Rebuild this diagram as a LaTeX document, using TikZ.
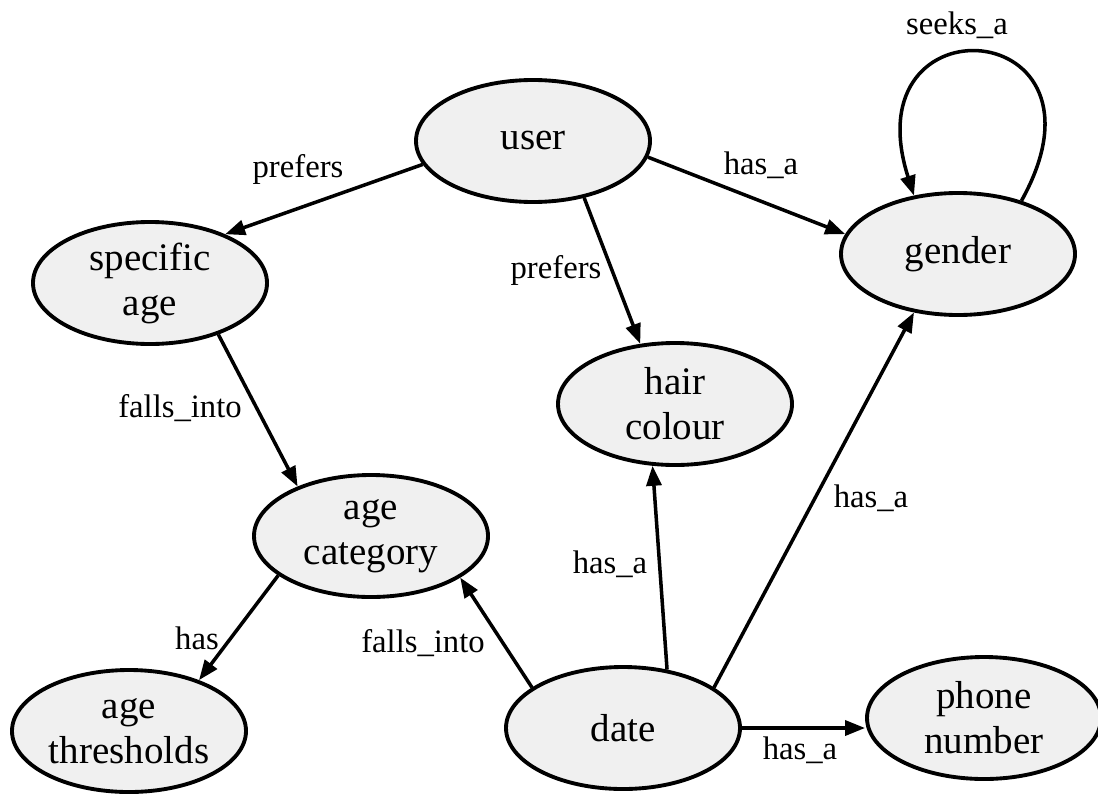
\documentclass[tikz,border=0pt]{standalone}
\usepackage{fontspec}
\setmainfont{Liberation Serif}
\usepackage{xcolor}
\usepackage{tikz}
\usetikzlibrary{arrows.meta,positioning,shapes.geometric}
\definecolor{nodefill}{HTML}{F0F0F0}
\definecolor{linedark}{HTML}{000000}
\tikzset{
  concept/.style={draw=linedark, ellipse, line width=1.1pt, fill=nodefill, align=center, inner sep=0pt, minimum width=23.4mm, minimum height=12.2mm, font=\fontsize{11.1}{12.8}\selectfont},
  arrow/.style={-{Triangle[length=2mm, width=1.5mm]}, line width=1pt, draw=linedark},
  rel/.style={font=\fontsize{9.3}{11}\selectfont, inner sep=0pt}
}

\begin{document}
\begin{tikzpicture}
  \useasboundingbox (0,0) rectangle (10.98,-7.94);
  \node[concept] (user) at (5.33,-1.41) {user};
  \node[concept] (specific) at (1.50,-2.83) {specific\\age};
  \node[concept] (gender) at (9.58,-2.54) {gender};
  \node[concept] (hair) at (6.75,-4.04) {hair\\colour};
  \node[concept] (agecat) at (3.71,-5.36) {age\\category};
  \node[concept] (thresholds) at (1.29,-7.31) {age\\thresholds};
  \node[concept] (date) at (6.23,-7.28) {date};
  \node[concept] (phone) at (9.84,-7.18) {phone\\number};

  \node[rel] (lprefers1) at (2.98,-1.69) {prefers};
  \node[rel] (lhas1) at (7.61,-1.65) {has\_a};
  \node[rel] (lprefers2) at (5.56,-2.70) {prefers};
  \node[rel] (lfalls1) at (1.80,-4.08) {falls\_into};
  \node[rel] (lhas2) at (1.97,-6.38) {has};
  \node[rel] (lfalls2) at (4.23,-6.43) {falls\_into};
  \node[rel] (lhas3) at (6.10,-5.64) {has\_a};
  \node[rel] (lhas4) at (8.71,-4.98) {has\_a};
  \node[rel] (lhas5) at (8.00,-7.50) {has\_a};
  \node[rel] (lseeks) at (9.57,-0.25) {seeks\_a};

  \draw[arrow] (user.192) -- (specific.33);
  \draw[arrow] (user.352) -- (gender.170);
  \draw[arrow] (user.312) -- (hair.120);
  \draw[arrow] (specific.323) -- (agecat.146);
  \draw[arrow] (agecat.203) -- (thresholds.36);
  \draw[arrow] (date.156) -- (agecat.335);
  \draw[arrow] (date.53) -- (hair.250);
  \draw[arrow] (date.24) -- (gender.233);
  \draw[arrow] (date.east) -- (date.east -| phone.west);
  \draw[arrow] (gender.40) .. controls (11.25,-0.15) and (8.5,0.05) .. (gender.127);
\end{tikzpicture}
\end{document}
